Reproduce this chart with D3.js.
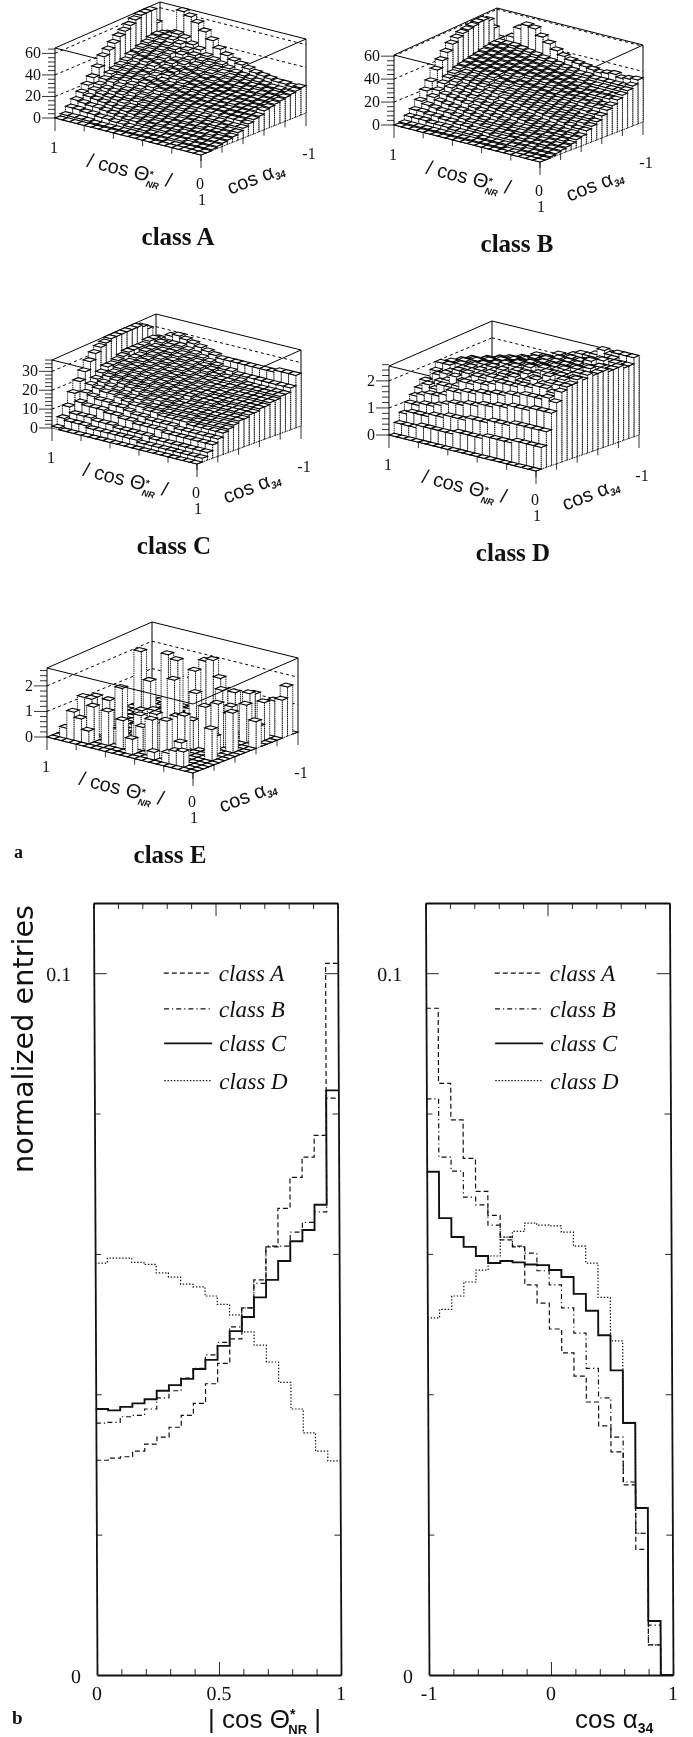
<!DOCTYPE html>
<html>
<head>
<meta charset="utf-8">
<script src="https://cdn.jsdelivr.net/npm/d3@7"></script>
<style>
  body { margin: 0; background: #fff; }
  text { fill: #111; }
  svg { filter: blur(0.3px); }
</style>
</head>
<body>
<script>
// lego heights, first row is |cos theta| = 1, last row |cos theta| = 0
// columns go from cos alpha = 1 to cos alpha = -1
var classA = [
  [0,2,7,12,17,22,27,34,42,46,50,54,57,60,63,65,65,65,52,40],
  [0,2,7,11,15,19,22,25,28,30,32,34,37,38,40,42,44,45,44,42],
  [0,2,6,10,14,17,20,24,26,28,30,32,35,36,38,40,42,44,44,44],
  [0,2,6,10,13,16,19,22,25,27,29,31,34,35,37,39,41,44,47,65],
  [0,1,5,9,12,15,18,20,23,26,28,29,32,33,35,37,39,42,45,62],
  [0,1,5,8,11,14,16,19,21,24,25,27,29,30,32,33,36,38,41,58],
  [0,1,4,7,10,12,15,17,19,22,23,24,27,28,29,31,33,35,38,52],
  [0,1,4,6,9,11,13,15,17,20,21,22,25,25,27,28,30,32,34,46],
  [0,1,3,6,8,10,12,14,16,18,20,21,23,23,25,26,28,30,32,40],
  [0,1,3,5,7,9,11,13,15,17,18,19,21,22,23,24,26,28,30,36],
  [0,1,3,5,6,8,10,12,14,16,17,18,20,20,21,23,24,26,28,33],
  [0,1,2,4,6,7,9,11,13,15,16,17,19,19,20,21,22,24,26,31],
  [0,1,2,4,5,7,8,10,12,14,15,16,18,18,19,20,21,23,25,29],
  [0,1,2,3,5,6,8,9,11,14,15,15,17,17,18,19,21,22,24,27],
  [0,0,2,3,4,6,7,9,11,13,14,15,16,17,18,18,20,21,23,26],
  [0,0,2,3,4,5,7,8,10,13,14,14,16,16,17,18,19,21,22,25],
  [0,0,1,3,4,5,6,8,10,12,13,14,15,16,17,17,19,20,21,24],
  [0,0,1,2,3,5,6,8,9,12,13,14,15,15,16,17,18,19,21,24],
  [0,0,1,2,3,4,6,7,9,12,13,14,15,15,16,17,18,19,20,23],
  [0,0,1,2,3,4,5,7,9,11,13,14,17,18,19,20,21,22,23,24]
];
var classB = [
  [0,1,5,9,15,22,28,36,42,47,52,55,57,58,59,60,60,58,50,40],
  [0,1,5,9,13,18,22,26,29,31,33,34,35,36,37,38,39,40,40,36],
  [0,1,5,8,12,16,20,24,27,29,31,33,34,35,36,37,38,39,40,44],
  [0,1,4,8,11,15,19,22,25,28,30,32,33,34,35,36,37,38,40,52],
  [0,1,4,7,11,14,18,21,24,27,29,31,32,33,34,35,36,37,39,56],
  [0,1,4,7,10,13,17,20,23,26,28,30,31,32,33,34,35,36,38,55],
  [0,1,3,6,9,12,15,18,21,24,26,28,29,31,32,33,34,35,37,50],
  [0,1,3,6,8,11,14,17,20,23,25,27,28,30,31,32,33,34,36,46],
  [0,1,3,5,8,10,13,16,18,21,23,25,27,28,30,31,32,33,35,42],
  [0,1,3,5,7,9,12,15,17,20,22,24,26,27,29,30,31,32,34,39],
  [0,1,2,5,7,9,11,14,16,19,21,23,25,26,28,29,30,31,33,37],
  [0,1,2,4,6,8,10,13,15,18,20,22,24,25,27,28,29,30,32,36],
  [0,1,2,4,6,7,9,12,14,17,19,21,23,24,26,27,28,29,31,35],
  [0,1,2,4,5,7,9,11,13,16,18,20,22,24,25,26,27,29,31,34],
  [0,0,2,3,5,6,8,10,12,15,17,19,21,23,24,25,27,28,30,33],
  [0,0,2,3,4,6,7,9,11,14,16,18,20,22,24,25,26,28,30,34],
  [0,0,1,3,4,5,7,8,10,13,15,17,19,22,23,25,26,28,30,35],
  [0,0,1,2,4,5,6,8,9,12,14,16,19,21,23,25,26,28,30,33],
  [0,0,1,2,3,4,6,7,9,11,14,16,18,21,22,25,26,28,30,34],
  [0,0,1,2,3,4,5,7,8,11,13,15,18,21,23,26,28,30,32,35]
];
var classC = [
  [1,5,10,16,21,25,29,32,34,35,36,36,36,36,36,36,35,33,27,20],
  [0,4,7,12,16,19,21,23,25,25,26,27,28,28,28,28,29,29,28,26],
  [0,4,7,11,15,18,20,22,23,24,25,25,26,26,27,27,27,28,27,29],
  [0,4,7,11,14,17,19,21,22,23,24,24,25,25,26,26,26,27,27,30],
  [0,3,6,11,14,17,18,20,21,22,23,23,24,24,25,25,26,26,27,29],
  [0,3,6,10,13,16,17,19,20,21,22,22,23,23,24,24,25,25,26,28],
  [0,3,6,10,13,15,16,18,19,20,21,21,22,22,23,23,24,24,25,27],
  [0,3,5,9,12,14,16,17,18,19,20,20,21,21,22,22,23,23,24,26],
  [0,3,5,9,11,14,15,16,17,18,19,19,20,20,21,21,22,22,23,25],
  [0,3,5,8,11,13,14,16,16,17,18,18,19,19,20,20,21,21,22,24],
  [0,3,5,8,10,13,14,15,16,16,17,17,18,18,19,19,20,20,21,24],
  [0,2,5,8,10,12,13,14,15,15,17,17,17,17,18,18,19,19,21,24],
  [0,2,4,8,10,12,13,14,15,15,16,16,17,17,18,18,19,19,20,24],
  [0,2,4,7,10,12,13,14,14,15,16,16,16,17,17,18,18,19,20,24],
  [0,2,4,7,9,12,13,14,14,15,16,16,16,16,17,17,18,18,20,24],
  [0,2,4,7,9,11,12,13,14,14,15,15,16,16,17,17,18,18,20,24],
  [0,2,4,7,9,11,12,13,14,14,15,15,16,16,17,17,18,18,20,24],
  [0,2,4,7,9,11,12,13,14,14,15,15,16,16,17,17,18,18,20,25],
  [0,2,4,7,9,11,12,13,14,14,15,15,16,16,17,17,18,18,20,25],
  [0,2,4,7,9,11,12,13,14,14,15,15,16,16,17,17,18,18,20,25]
];
var classD = [
  [0,.4,.7,1.0,1.2,1.4,1.6,1.5,1.8,2.0,1.8,1.9,1.7,1.8,1.6,1.7,1.5,1.4,1.5,1.3],
  [0,.4,.8,1.0,1.3,1.6,1.5,1.8,1.7,2.0,1.9,1.7,1.9,1.7,1.8,1.5,1.6,1.5,1.3,1.5],
  [0,.4,.8,1.1,1.4,1.5,1.7,1.9,1.9,1.8,2.0,1.9,1.7,1.9,1.7,1.8,1.5,1.6,1.5,1.4],
  [0,.5,.8,1.1,1.4,1.7,1.8,1.7,2.0,2.0,1.9,2.0,1.9,1.7,1.9,1.6,1.8,1.6,1.7,1.5],
  [0,.5,.9,1.2,1.5,1.7,2.0,1.9,2.0,2.1,2.1,1.9,2.0,1.9,1.7,1.9,1.6,1.8,1.5,1.7],
  [0,.5,.9,1.3,1.7,1.8,1.9,2.1,2.1,2.0,2.2,2.0,1.9,2.0,1.9,1.7,1.9,1.6,1.8,1.7],
  [0,.5,1.0,1.4,1.7,2.0,2.0,2.0,2.2,2.2,2.1,2.2,2.0,1.9,2.0,1.8,1.9,1.9,1.7,1.9],
  [0,.5,1.0,1.4,1.8,2.0,2.2,2.2,2.1,2.3,2.2,2.1,2.2,2.0,2.1,2.0,1.8,2.0,1.8,1.9],
  [0,.6,1.0,1.5,1.8,2.1,2.2,2.3,2.3,2.2,2.4,2.2,2.1,2.2,2.0,2.1,2.0,1.9,2.0,1.9],
  [0,.6,1.1,1.5,1.9,2.1,2.3,2.2,2.4,2.4,2.3,2.4,2.2,2.1,2.2,2.0,2.1,2.0,1.9,2.1],
  [0,.6,1.1,1.6,1.9,2.2,2.3,2.4,2.3,2.5,2.4,2.3,2.4,2.2,2.1,2.3,2.1,2.1,2.1,2.0],
  [0,.6,1.1,1.6,2.0,2.3,2.3,2.4,2.5,2.4,2.5,2.4,2.2,2.4,2.2,2.2,2.3,2.0,2.2,2.2],
  [0,.7,1.2,1.7,2.0,2.3,2.5,2.4,2.5,2.6,2.4,2.5,2.4,2.2,2.4,2.2,2.2,2.3,2.1,2.3],
  [0,.7,1.2,1.7,2.1,2.3,2.4,2.6,2.5,2.4,2.6,2.4,2.5,2.3,2.2,2.4,2.2,2.3,2.2,2.3],
  [0,.7,1.2,1.8,2.1,2.4,2.5,2.5,2.6,2.7,2.5,2.6,2.4,2.5,2.3,2.3,2.4,2.2,2.3,2.4],
  [0,.7,1.3,1.8,2.2,2.4,2.6,2.4,2.7,2.5,2.6,2.6,2.5,2.4,2.5,2.3,2.4,2.4,2.2,2.6],
  [0,.8,1.3,1.8,2.2,2.5,2.5,2.7,2.6,2.6,2.7,2.5,2.6,2.5,2.3,2.6,2.3,2.5,2.3,2.5],
  [0,.8,1.3,1.9,2.2,2.5,2.6,2.5,2.7,2.7,2.5,2.7,2.5,2.6,2.5,2.3,2.6,2.3,2.5,2.6],
  [0,.8,1.3,1.9,2.3,2.4,2.6,2.7,2.6,2.6,2.7,2.5,2.7,2.4,2.6,2.5,2.3,2.5,2.4,2.6],
  [0,.8,1.3,1.9,2.2,2.5,2.6,2.6,2.7,2.6,2.7,2.6,2.6,2.6,2.5,2.5,2.5,2.4,2.4,2.6]
];
var classE = [
  [0,0,0,0,0,0,0,0,0,0,0,0,0,0,0,0,0,0,0,0],
  [0,.4,0,0,0,0,0,0,0,0,0,0,0,0,0,0,0,0,0,0],
  [0,1.1,0,1.5,0,0,0,0,0,0,0,0,0,0,0,0,0,0,0,0],
  [0,.9,0,1.5,1.5,0,0,0,0,0,0,0,0,0,0,0,0,0,0,0],
  [0,.5,1.35,0,0,1.35,0,0,0,0,0,2.7,0,0,0,0,0,0,0,0],
  [0,0,0,0,0,0,1.8,0,0,0,0,0,0,0,0,0,0,0,0,0],
  [0,0,1.3,0,.5,0,0,0,0,0,1.8,0,0,0,0,0,0,0,0,0],
  [0,0,0,.6,0,0,0,1.0,0,0,0,0,2.7,0,0,0,0,0,0,0],
  [0,0,1.1,0,0,.7,0,0,1.0,0,0,0,0,0,0,0,0,0,0,0],
  [0,0,0,0,1.2,0,0,1.0,0,0,0,2.7,0,0,0,0,0,0,0,0],
  [0,.6,0,.9,0,0,0,0,0,2.2,0,0,0,2.2,0,2.4,0,0,0,0],
  [0,0,0,0,0,0,.7,0,0,0,0,1.0,0,0,0,2.5,0,0,0,0],
  [0,0,1.4,1.2,0,0,0,0,0,0,.9,0,0,0,0,1.9,0,0,0,0],
  [0,.3,0,0,0,.8,0,0,0,1.9,0,0,0,0,1.6,0,0,0,0,0],
  [0,0,1.5,0,1.5,0,0,1.1,0,0,0,1.3,0,0,0,1.5,0,0,0,0],
  [0,.4,0,0,1.6,0,0,0,1.6,0,0,0,0,1.2,0,0,0,0,0,0],
  [0,.55,.8,0,0,0,0,0,0,1.7,0,1.1,0,0,0,1.6,1.5,0,0,0],
  [0,.6,0,0,0,0,0,.7,0,0,1.3,0,0,1.4,0,0,0,0,0,0],
  [0,0,0,0,0,1.2,0,0,0,1.5,0,0,0,0,.6,1.4,0,1.3,0,0],
  [0,0,0,0,0,0,0,0,0,0,0,0,1.0,0,0,0,0,1.4,1.8,0]
];

// normalized entries per bin, |cos theta| from 0 to 1
var thetaA = [.0306,.0309,.0311,.0319,.0329,.0339,.0353,.0370,.0387,.0415,.0444,.0479,.0523,.0563,.0610,.0665,.0709,.0738,.0769,.1014];
var thetaB = [.0359,.0360,.0368,.0370,.0379,.0395,.0405,.0423,.0437,.0456,.0474,.0496,.0523,.0558,.0611,.0611,.0631,.0645,.0660,.0822];
var thetaC = [.0379,.0377,.0382,.0387,.0393,.0405,.0413,.0422,.0436,.0449,.0469,.0490,.0510,.0538,.0563,.0590,.0618,.0634,.0670,.0833];
var thetaD = [.0587,.0594,.0594,.0588,.0585,.0573,.0567,.0557,.0553,.0540,.0528,.0513,.0489,.0470,.0446,.0417,.0379,.0345,.0319,.0305];

// normalized entries per bin, cos alpha from -1 to 1
var alphaA = [.0950,.0843,.0791,.0736,.0689,.0655,.0620,.0611,.0556,.0530,.0493,.0459,.0426,.0389,.0355,.0318,.0271,.0179,.0043,0];
var alphaB = [.0821,.0738,.0718,.0681,.0670,.0641,.0624,.0610,.0601,.0576,.0556,.0523,.0487,.0437,.0395,.0339,.0275,.0202,.0071,0];
var alphaC = [.0717,.0651,.0624,.0610,.0597,.0587,.0590,.0588,.0585,.0584,.0577,.0567,.0543,.0519,.0484,.0434,.0359,.0238,.0077,0];
var alphaD = [.0509,.0521,.0540,.0560,.0577,.0597,.0624,.0632,.0644,.0641,.0640,.0631,.0611,.0587,.0538,.0476,.0360,.0202,.0043,0];

var classNames = ["class A", "class B", "class C", "class D"];
var dashes = ["5 3", "5 3 1.2 3", null, "1.4 1.8"];
var widths = [1.2, 1.2, 1.9, 1.2];

var svg = d3.select("body").append("svg")
  .attr("width", 693)
  .attr("height", 1737)
  .style("display", "block");

var serif = "'Liberation Serif', serif";
var sans = "'Liberation Sans', sans-serif";

// one lego plot. corners are the floor corners on the page
function lego(o) {
  var g = svg.append("g");
  var n = o.rows.length;
  var cell = d3.scaleLinear().domain([0, n]).range([0, 1]);
  var zs = d3.scaleLinear().domain([0, o.zmax]).range([0, 1]);

  // u runs from front corner to left corner, v from front corner to right corner
  function px(u, v, z) {
    return [
      o.F[0] + u * (o.L[0] - o.F[0]) + v * (o.R[0] - o.F[0]),
      o.F[1] + u * (o.L[1] - o.F[1]) + v * (o.R[1] - o.F[1]) - zs(z) * (o.hL + (o.hR - o.hL) * v)
    ];
  }
  var poly = d3.line();
  function drawLine(a, b, dash, w) {
    g.append("path").attr("d", poly([a, b])).attr("fill", "none")
      .attr("stroke", "#000").attr("stroke-width", w || 1)
      .attr("stroke-dasharray", dash || null);
  }

  // dashed levels on the two back walls
  o.majors.filter(function(d) { return d > 0; }).forEach(function(d) {
    drawLine(px(1, 0, d), px(1, 1, d), "3 3");
    drawLine(px(1, 1, d), px(0, 1, d), "3 3");
  });
  drawLine(px(1, 0, 0), px(1, 0, o.zmax));
  drawLine(px(1, 1, 0), px(1, 1, o.zmax));
  drawLine(px(0, 1, 0), px(0, 1, o.zmax));
  drawLine(px(1, 0, o.zmax), px(1, 1, o.zmax));
  drawLine(px(1, 1, o.zmax), px(0, 1, o.zmax));
  if (!o.frontBox) {
    drawLine(px(1, 0, o.zmax), px(0, 0, o.zmax));
    drawLine(px(0, 1, o.zmax), px(0, 0, o.zmax));
  }

  // bars from back to front
  var faces = [];
  d3.range(n).forEach(function(r) {
    var i = n - 1 - r;
    d3.range(n - 1, -1, -1).forEach(function(j) {
      var z = o.rows[r][j];
      var u0 = cell(i), u1 = cell(i + 1), v0 = cell(j), v1 = cell(j + 1);
      faces.push({side: true, pts: [px(u0, v0, 0), px(u0, v1, 0), px(u0, v1, z), px(u0, v0, z)]});
      faces.push({side: true, pts: [px(u0, v0, 0), px(u1, v0, 0), px(u1, v0, z), px(u0, v0, z)]});
      faces.push({side: false, pts: [px(u0, v0, z), px(u1, v0, z), px(u1, v1, z), px(u0, v1, z)]});
    });
  });
  g.append("g").selectAll("path")
    .data(faces)
    .join("path")
    .attr("d", function(d) { return poly(d.pts) + "Z"; })
    .attr("fill", "#fff")
    .attr("stroke", "#000")
    .attr("stroke-width", function(d) { return d.side ? 0.9 : 1.05; })
    .attr("stroke-dasharray", function(d) { return d.side ? "1.2 0.7" : null; });

  if (o.frontBox) {
    drawLine(px(1, 0, o.zmax), px(0, 0, o.zmax));
    drawLine(px(0, 1, o.zmax), px(0, 0, o.zmax));
  }

  // z axis ticks on the left wall
  var step = o.majors[1] / 5;
  d3.range(0, o.zmax + step / 2, step).forEach(function(d, k) {
    var p = px(1, 0, d);
    drawLine([p[0] - (k % 5 == 0 ? 13 : 7), p[1]], p, null, 0.8);
  });
  o.majors.forEach(function(d) {
    var p = px(1, 0, d);
    g.append("text").attr("x", p[0] - 14).attr("y", p[1] + 5)
      .attr("text-anchor", "end").attr("font-family", serif).attr("font-size", 16)
      .text(d);
  });

  // floor ticks
  d3.range(0, 1.01, 0.2).forEach(function(t, k) {
    var a = px(t, 0, 0);
    drawLine(a, [a[0], a[1] + (k == 0 || k == 5 ? 13 : 6)], null, 0.8);
    var b = px(0, t, 0);
    drawLine(b, [b[0], b[1] + (k == 5 ? 13 : 6)], null, 0.8);
  });

  function small(x, y, s) {
    g.append("text").attr("x", x).attr("y", y).attr("text-anchor", "middle")
      .attr("font-family", serif).attr("font-size", 16).text(s);
  }
  small(o.L[0] - 1, o.L[1] + 35, "1");
  small(o.F[0] - 1, o.F[1] + 34, "0");
  small(o.F[0] + 1, o.F[1] + 50, "1");
  small(o.R[0] + 3, o.R[1] + 46, "-1");

  // rotated axis names
  var tx = o.F[0] - 73, ty = o.F[1] + 22;
  var t1 = g.append("text")
    .attr("transform", "translate(" + tx + "," + ty + ") rotate(14)")
    .attr("text-anchor", "middle").attr("font-family", sans).attr("font-size", 20);
  t1.append("tspan").text("/ cos \u0398");
  t1.append("tspan").attr("dy", -5).attr("font-size", 10).attr("font-weight", "bold").text("*");
  t1.append("tspan").attr("dy", 10).attr("dx", -5).attr("font-size", 9).attr("font-weight", "bold").attr("font-style", "italic").text("NR");
  t1.append("tspan").attr("dy", -5).text(" /");

  var ax = o.F[0] + 57, ay = o.F[1] + 29;
  var t2 = g.append("text")
    .attr("transform", "translate(" + ax + "," + ay + ") rotate(-21)")
    .attr("text-anchor", "middle").attr("font-family", sans).attr("font-size", 20);
  t2.append("tspan").text("cos \u03b1");
  t2.append("tspan").attr("dy", 3).attr("font-size", 10).attr("font-weight", "bold").attr("font-style", "italic").text("34");

  g.append("text").attr("x", o.F[0] - 23).attr("y", o.F[1] + 90)
    .attr("text-anchor", "middle").attr("font-family", serif)
    .attr("font-weight", "bold").attr("font-size", 25).text(o.title);
}

lego({rows: classA, title: "class A", zmax: 65, majors: [0, 20, 40, 60], F: [201, 155], L: [55, 118], R: [306, 113], hL: 70, hR: 74});
lego({rows: classB, title: "class B", zmax: 61, majors: [0, 20, 40, 60], F: [540, 162], L: [394, 125], R: [643, 122], hL: 70, hR: 77});
lego({rows: classC, title: "class C", zmax: 36, majors: [0, 10, 20, 30], F: [197, 464], L: [52, 428], R: [301, 426], hL: 68, hR: 76});
lego({rows: classD, title: "class D", zmax: 2.55, majors: [0, 1, 2], F: [536, 471], L: [389, 435], R: [639, 435], hL: 69, hR: 78});
lego({rows: classE, title: "class E", zmax: 2.7, majors: [0, 1, 2], F: [193, 773], L: [47, 737], R: [298, 732], hL: 69, hR: 74, frontBox: true});

svg.append("text").attr("x", 14).attr("y", 858).attr("font-family", serif)
  .attr("font-weight", "bold").attr("font-size", 18).text("a");

// step histogram panel, slightly skewed like the scan
function panel(o) {
  var W = 244, H = 772;
  var g = svg.append("g")
    .attr("transform", "translate(" + o.x0 + ",1675) skewX(0.26) translate(0," + (-H) + ")");
  var x = d3.scaleLinear().domain(o.domain).range([0, W]);
  var y = d3.scaleLinear().domain([0, 0.11]).range([H, 0]);

  var xTicks = d3.range(0, 11).map(function(k) { return o.domain[0] + k * (o.domain[1] - o.domain[0]) / 10; });
  var yTicks = [0.02, 0.04, 0.06, 0.08, 0.1];
  var midX = (o.domain[0] + o.domain[1]) / 2;

  function frame(axis, tr, isX) {
    var a = g.append("g").attr("transform", tr)
      .call(axis.tickFormat("").tickSizeOuter(0));
    a.select(".domain").attr("stroke", "#111").attr("stroke-width", 1.8);
    a.selectAll(".tick line").attr("stroke", "#111").attr("stroke-width", 0.9);
    return a;
  }
  var top = frame(d3.axisBottom(x).tickValues(xTicks).tickSize(6), "translate(0,0)");
  var bot = frame(d3.axisTop(x).tickValues(xTicks).tickSize(6), "translate(0," + H + ")");
  var lft = frame(d3.axisRight(y).tickValues(yTicks).tickSize(6), "translate(0,0)");
  var rgt = frame(d3.axisLeft(y).tickValues(yTicks).tickSize(6), "translate(" + W + ",0)");
  top.selectAll(".tick line").attr("y2", function(d) { return Math.abs(d - midX) < 1e-9 ? 13 : 6; });
  bot.selectAll(".tick line").attr("y2", function(d) { return Math.abs(d - midX) < 1e-9 ? -13 : -6; });
  lft.selectAll(".tick line").attr("x2", function(d) { return d == 0.1 ? 13 : 6; });
  rgt.selectAll(".tick line").attr("x2", function(d) { return d == 0.1 ? -13 : -6; });

  var edges = d3.range(21).map(function(k) { return o.domain[0] + k * (o.domain[1] - o.domain[0]) / 20; });
  var line = d3.line()
    .x(function(d) { return x(d[0]); })
    .y(function(d) { return y(d[1]); })
    .curve(d3.curveStepAfter);

  o.series.forEach(function(vals, s) {
    var pts = edges.map(function(e, k) { return [e, k < 20 ? vals[k] : vals[19]]; });
    g.append("path").attr("d", line(pts)).attr("fill", "none")
      .attr("stroke", "#111").attr("stroke-width", widths[s])
      .attr("stroke-dasharray", dashes[s]);
  });

  // legend
  classNames.forEach(function(name, s) {
    var ly = [0.1, 0.0949, 0.09, 0.0847][s];
    g.append("line").attr("x1", o.legX).attr("x2", o.legX + 48)
      .attr("y1", y(ly)).attr("y2", y(ly))
      .attr("stroke", "#111").attr("stroke-width", widths[s])
      .attr("stroke-dasharray", dashes[s]);
    g.append("text").attr("x", o.legX + 55).attr("y", y(ly) + 8)
      .attr("font-family", serif).attr("font-style", "italic").attr("font-size", 23)
      .text(name);
  });

  // tick numbers
  o.xLabels.forEach(function(d) {
    g.append("text").attr("x", x(d)).attr("y", H + 25).attr("text-anchor", "middle")
      .attr("font-family", serif).attr("font-size", 20).text(d);
  });
  g.append("text").attr("x", -21).attr("y", y(0) + 8).attr("text-anchor", "middle")
    .attr("font-family", serif).attr("font-size", 20).text("0");
  g.append("text").attr("x", o.oneX).attr("y", y(0.1) + 8).attr("text-anchor", "middle")
    .attr("font-family", serif).attr("font-size", 20).text("0.1");
}

panel({x0: 97, domain: [0, 1], xLabels: [0, 0.5, 1], series: [thetaA, thetaB, thetaC, thetaD], legX: 70, oneX: -35});
panel({x0: 429, domain: [-1, 1], xLabels: [-1, 0, 1], series: [alphaA, alphaB, alphaC, alphaD], legX: 69, oneX: -36});

svg.append("text")
  .attr("transform", "translate(33,1173) rotate(-90)")
  .attr("font-family", "'DejaVu Sans', sans-serif").attr("font-size", 28)
  .attr("textLength", 268).attr("lengthAdjust", "spacingAndGlyphs")
  .text("normalized entries");

var xt1 = svg.append("text").attr("x", 208).attr("y", 1728)
  .attr("font-family", sans).attr("font-size", 26);
xt1.append("tspan").text("| cos \u0398");
xt1.append("tspan").attr("dy", -9).attr("font-size", 14).attr("font-weight", "bold").text("*");
xt1.append("tspan").attr("dy", 15).attr("dx", -7).attr("font-size", 13).attr("font-weight", "bold").text("NR");
xt1.append("tspan").attr("dy", -6).text(" |");

var xt2 = svg.append("text").attr("x", 575).attr("y", 1728)
  .attr("font-family", sans).attr("font-size", 26);
xt2.append("tspan").text("cos \u03b1");
xt2.append("tspan").attr("dy", 5).attr("font-size", 14).attr("font-weight", "bold").text("34");

svg.append("text").attr("x", 12).attr("y", 1724).attr("font-family", serif)
  .attr("font-weight", "bold").attr("font-size", 19).text("b");
</script>
</body>
</html>
